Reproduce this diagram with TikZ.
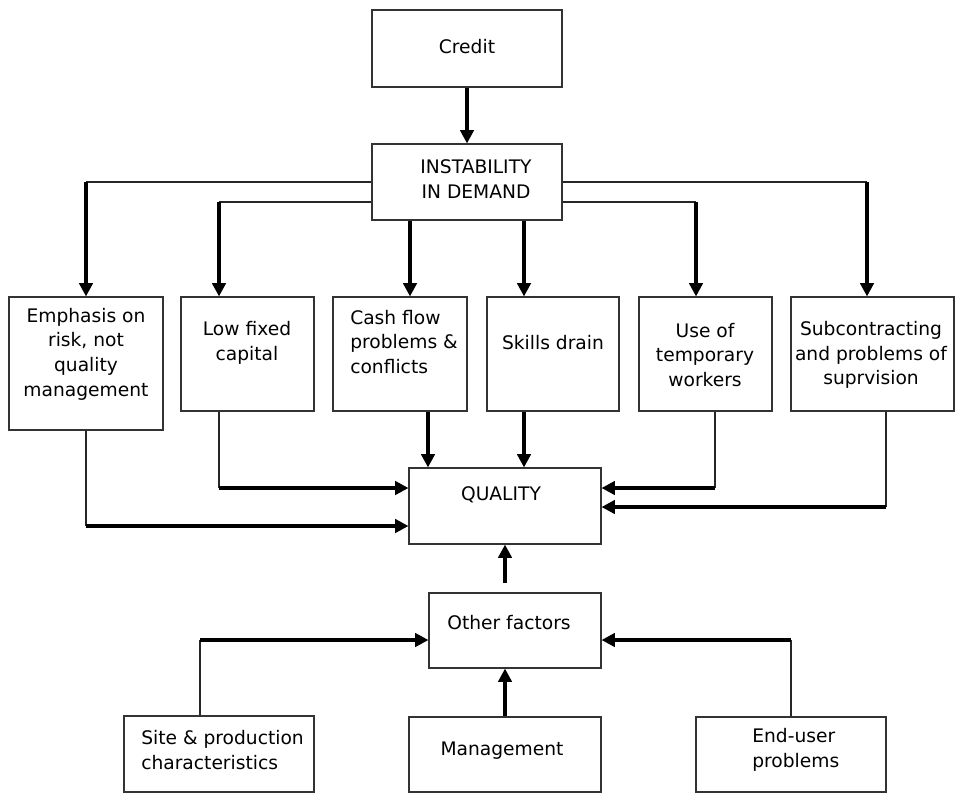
\documentclass[tikz,border=0pt]{standalone}
\usepackage{fontspec}
\setmainfont{DejaVu Sans}
\usetikzlibrary{arrows.meta,fit,calc}
\begin{document}
\begin{tikzpicture}[x=0.75pt,y=-0.75pt,
  box/.style={draw=black!80,line width=0.8pt,inner sep=0pt,fit={#1}},
  txt/.style={font=\fontsize{14}{18.5}\selectfont,align=center,inner sep=0pt},
  txtl/.style={font=\fontsize{14}{18.5}\selectfont,align=left,inner sep=0pt,anchor=west},
  thinln/.style={draw=black!85,line width=0.8pt},
  thickar/.style={draw=black,line width=2.7pt,-{Triangle[length=10pt,width=10pt]}}]
\useasboundingbox (0,0) rectangle (955,793);

% boxes
\node[box={(372,10) (562,87)}] (credit) {};
\node[box={(372,144) (562,220)}] (inst) {};
\node[box={(9,297) (163,430)}] (b1) {};
\node[box={(181,297) (314,411)}] (b2) {};
\node[box={(333,297) (467,411)}] (b3) {};
\node[box={(487,297) (619,411)}] (b4) {};
\node[box={(639,297) (772,411)}] (b5) {};
\node[box={(791,297) (954,411)}] (b6) {};
\node[box={(409,468) (601,544)}] (q) {};
\node[box={(429,593) (601,668)}] (other) {};
\node[box={(124,716) (314,792)}] (site) {};
\node[box={(409,717) (601,792)}] (mgmt) {};
\node[box={(696,717) (886,792)}] (enduser) {};

% texts
\node[txt] (tcredit) at (467,47) {Credit};
\node[txt] (tinst) at (476,179) {INSTABILITY\\IN DEMAND};
\node[txt] (tb1) at (86,354) {Emphasis on\\risk, not\\quality\\management};
\node[txt] (tb2) at (247,343) {Low fixed\\capital};
\node[txtl] (tb3) at (350,342) {Cash flow\\problems \&\\conflicts};
\node[txt] (tb4) at (553,343) {Skills drain};
\node[txt] (tb5) at (705,355) {Use of\\temporary\\workers};
\node[txt] (tb6) at (871,355) {Subcontracting\\and problems of\\suprvision};
\node[txt] (tq) at (501,495) {QUALITY};
\node[txt] (tother) at (509,623) {Other factors};
\node[txtl] (tsite) at (141,750) {Site \& production\\characteristics};
\node[txt] (tmgmt) at (502,751) {Management};
\node[txtl] (tend) at (752,750) {End-user\\problems};

% junction coordinates
\coordinate (j1) at (86,182);
\coordinate (j2) at (219,202);
\coordinate (x3) at (410,0);
\coordinate (x4) at (524,0);
\coordinate (j5) at (696,202);
\coordinate (j6) at (867,182);
\coordinate (k1) at (86,526);
\coordinate (k2) at (219,488);
\coordinate (y3) at (428,0);
\coordinate (y4) at (524,0);
\coordinate (k5) at (715,488);
\coordinate (k6) at (886,507);
\coordinate (qx) at (505,583);
\coordinate (s1) at (200,640);
\coordinate (e1) at (791,640);

% credit -> instability
\draw[thickar] (credit) -- (inst);

% instability -> row
\draw[thinln] (inst.west |- j1) -- (j1);
\draw[thickar] (j1) -- (b1.north);
\draw[thinln] (inst.west |- j2) -- (j2);
\draw[thickar] (j2) -- (j2 |- b2.north);
\draw[thickar] (inst.south -| x3) -- (b3.north -| x3);
\draw[thickar] (inst.south -| x4) -- (b4.north -| x4);
\draw[thinln] (inst.east |- j5) -- (j5);
\draw[thickar] (j5) -- (j5 |- b5.north);
\draw[thinln] (inst.east |- j6) -- (j6);
\draw[thickar] (j6) -- (j6 |- b6.north);

% row -> quality
\draw[thinln] (b1.south) -- (k1);
\draw[thickar] (k1) -- (k1 -| q.west);
\draw[thinln] (b2.south -| k2) -- (k2);
\draw[thickar] (k2) -- (k2 -| q.west);
\draw[thickar] (b3.south -| y3) -- (q.north -| y3);
\draw[thickar] (b4.south -| y4) -- (q.north -| y4);
\draw[thinln] (b5.south -| k5) -- (k5);
\draw[thickar] (k5) -- (k5 -| q.east);
\draw[thinln] (b6.south -| k6) -- (k6);
\draw[thickar] (k6) -- (k6 -| q.east);

% other factors -> quality
\draw[thickar] (qx) -- (q.south -| qx);

% bottom row -> other factors
\draw[thickar] (mgmt.north) -- (other.south -| mgmt.north);
\draw[thinln] (site.north -| s1) -- (s1);
\draw[thickar] (s1) -- (s1 -| other.west);
\draw[thinln] (enduser.north -| e1) -- (e1);
\draw[thickar] (e1) -- (e1 -| other.east);
\end{tikzpicture}
\end{document}
